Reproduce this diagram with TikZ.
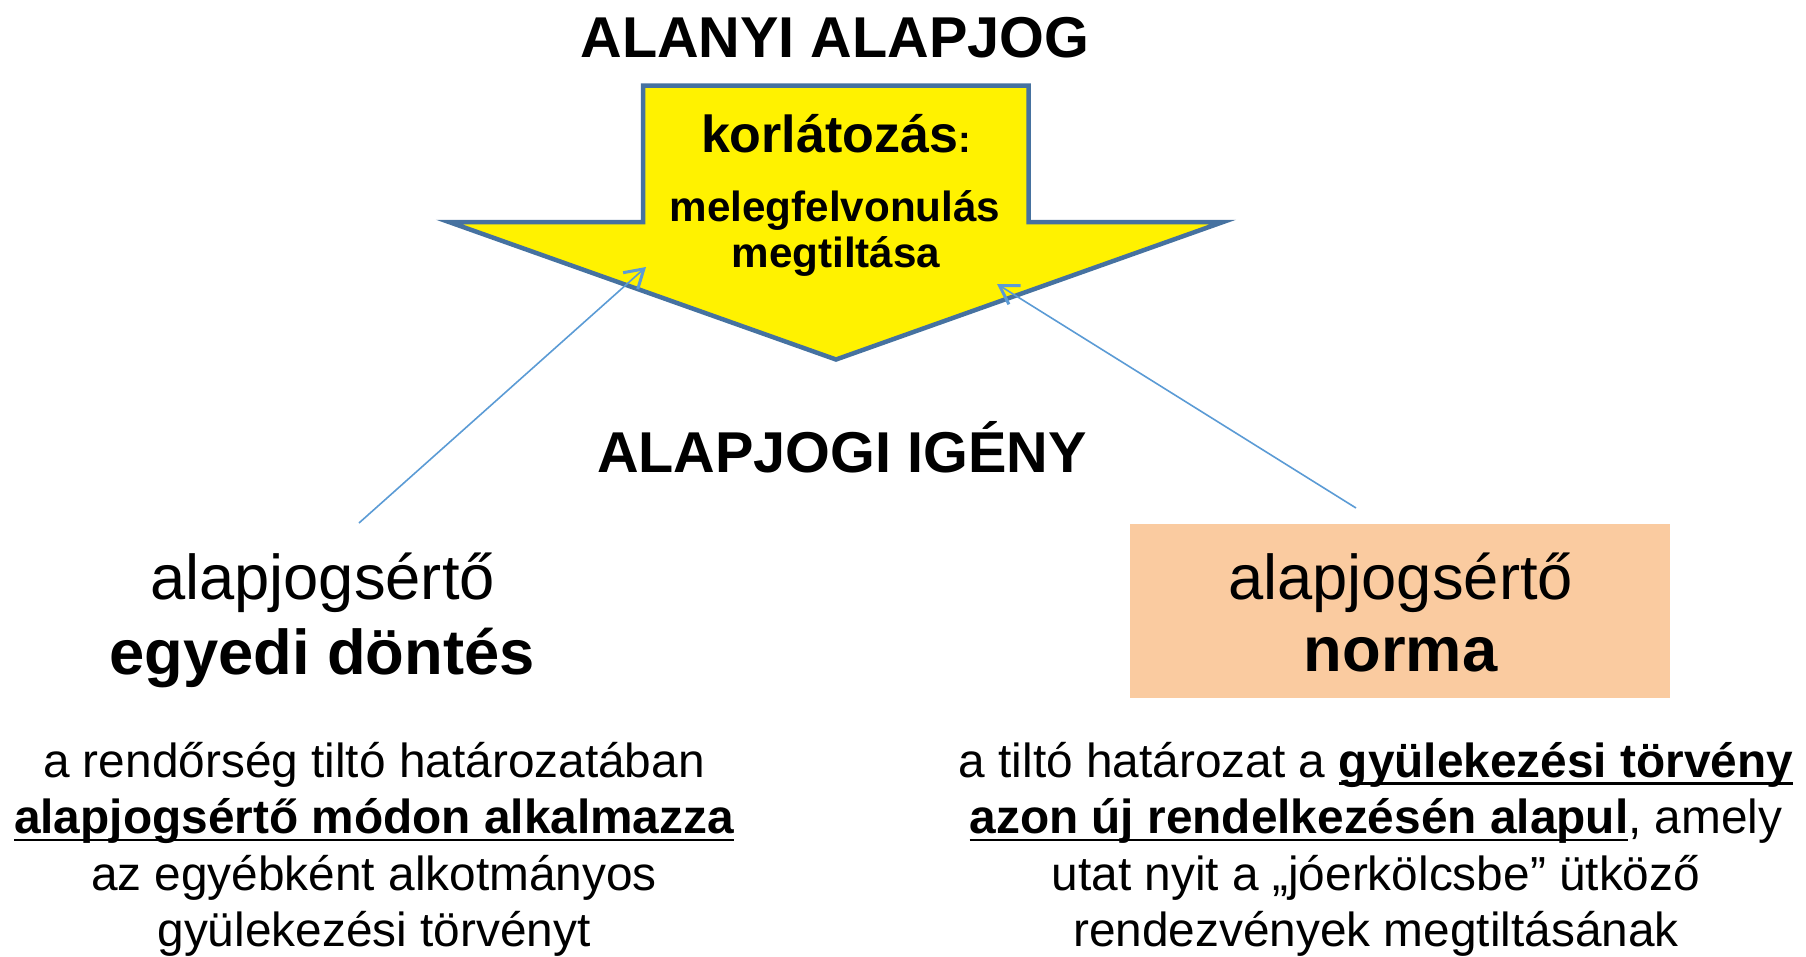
\documentclass[tikz,border=0pt]{standalone}
\usepackage{fontspec}
\setmainfont{Liberation Sans}
\usetikzlibrary{arrows.meta}
\definecolor{arrowline}{RGB}{70,114,160}
\definecolor{connblue}{RGB}{91,155,213}
\definecolor{peach}{RGB}{250,203,160}
\newcommand\ulx[1]{\setbox0\hbox{#1}\rlap{\rule[-0.16em]{\wd0}{0.055em}}\box0}
\newcommand\fs[2]{\fontsize{#1}{#2}\selectfont}
\begin{document}
\begin{tikzpicture}[x=1pt,y=-1pt,
  txt/.style={inner sep=0pt, anchor=base, text=black},
  conn/.style={draw=connblue, line width=1.6pt, -{Straight Barb[length=18pt,width=22pt,line width=3pt]}}
]
\useasboundingbox (0,0) rectangle (1806,956);
% big block arrow
\draw[fill=yellow, draw=arrowline, line width=4.5pt, line join=miter]
  (643,85.5) -- (1028.5,85.5) -- (1028.5,222) -- (1223,222) -- (836,359.5) -- (449,222) -- (643,222) -- cycle;
\node[txt] (title) at (835,57) {\fs{57.6}{60}\bfseries ALANYI ALAPJOG};
\node[txt] (korl) at (836,152) {\fs{52}{55}\bfseries korlátozás\fs{38}{40}:};
\node[txt] (meleg) at (835,221) {\fs{42.2}{45}\bfseries melegfelvonulás};
\node[txt] (megt) at (836,267) {\fs{42.2}{45}\bfseries megtiltása};
\node[txt] (igeny) at (842,472) {\fs{57.6}{60}\bfseries ALAPJOGI IGÉNY};
% left label
\node[txt] (left) at (322.5,599) {\fs{63.3}{72}\begin{tabular}[t]{@{}c@{}}alapjogsértő\\[0pt]\end{tabular}};
\node[txt] (leftb) at (322,674) {\fs{63.3}{72}\bfseries egyedi döntés};
% right box
\node[fill=peach, inner sep=0pt, minimum width=540pt, minimum height=174pt, anchor=north west] (box) at (1130,524) {};
\node[txt] (right) at (1400.5,599) {\fs{63.3}{72}alapjogsértő};
\node[txt] (rightb) at (1400.5,671) {\fs{63.3}{72}\bfseries norma};
% paragraphs
\node[txt] (lpara) at (374,777) {\fs{47.8}{56.5}\begin{tabular}[t]{@{}c@{}}
a rendőrség tiltó határozatában\\
\ulx{\bfseries alapjogsértő módon alkalmazza}\\
az egyébként alkotmányos\\
gyülekezési törvényt
\end{tabular}};
\node[txt] (rpara) at (1376,777) {\fs{47.8}{56.5}\begin{tabular}[t]{@{}c@{}}
a tiltó határozat a \ulx{\bfseries gyülekezési törvény}\\
\ulx{\bfseries azon új rendelkezésén alapul}, amely\\
utat nyit a „jóerkölcsbe” ütköző\\
rendezvények megtiltásának
\end{tabular}};
% connectors
\coordinate (lstart) at (359,523);
\coordinate (lend) at (646,267);
\coordinate (rstart) at (1356,508);
\coordinate (rend) at (997,284);
\draw[conn] (lstart) -- (lend);
\draw[conn] (rstart) -- (rend);
\end{tikzpicture}
\end{document}
